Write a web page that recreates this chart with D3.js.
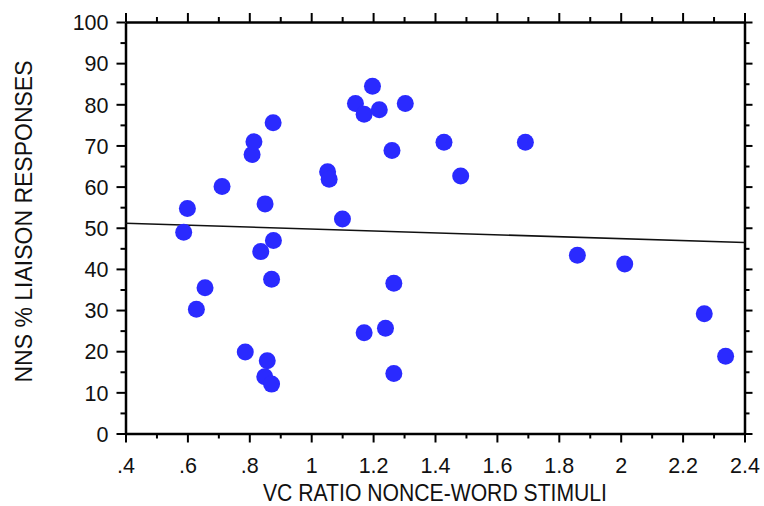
<!DOCTYPE html>
<html>
<head>
<meta charset="utf-8">
<script src="https://cdn.jsdelivr.net/npm/d3@7"></script>
<style>
  html, body { margin: 0; padding: 0; background: #fff; }
  svg { display: block; }
  text { font-family: Arial, "Liberation Sans", sans-serif; fill: #111; }
</style>
</head>
<body>
<svg id="chart" width="764" height="506"></svg>
<script>
// ---- data ----
const vcRatio = [0.600, 0.712, 0.809, 0.815, 0.877, 0.851, 1.053, 1.058, 1.101, 1.143,
                 1.171, 1.198, 1.220, 1.261, 1.304, 1.429, 1.483, 1.692, 0.588, 0.657,
                 0.629, 0.837, 0.878, 0.872, 0.787, 0.858, 0.850, 0.872, 1.267, 1.171,
                 1.240, 1.267, 1.860, 2.013, 2.270, 2.339];
const liaisonPct = [54.7, 60.0, 67.8, 70.9, 75.5, 55.8, 63.6, 61.8, 52.1, 80.2,
                    77.6, 84.4, 78.7, 68.8, 80.2, 70.8, 62.6, 70.8, 48.9, 35.4,
                    30.2, 44.2, 46.9, 37.5, 19.8, 17.7, 13.8, 12.0, 36.5, 24.5,
                    25.6, 14.6, 43.3, 41.2, 29.1, 18.8];
const fitX = [0.4, 2.4];
const fitY = [51.1, 46.4];
const xTickValues = [0.4, 0.6, 0.8, 1.0, 1.2, 1.4, 1.6, 1.8, 2.0, 2.2, 2.4];
const xTickLabels = [".4", ".6", ".8", "1", "1.2", "1.4", "1.6", "1.8", "2", "2.2", "2.4"];
const yTickValues = [0, 10, 20, 30, 40, 50, 60, 70, 80, 90, 100];
const xMinorTicks = [0.5, 0.7, 0.9, 1.1, 1.3, 1.5, 1.7, 1.9, 2.1, 2.3];
const yMinorTicks = [5, 15, 25, 35, 45, 55, 65, 75, 85, 95];
const xTitle = "VC RATIO NONCE-WORD STIMULI";
const yTitle = "NNS % LIAISON RESPONSES";

// ---- layout ----
const mLeft = 125.5, mRight = 744.5, mTop = 22, mBottom = 433.5;
const svg = d3.select("#chart");
const x = d3.scaleLinear().domain([0.4, 2.4]).range([mLeft, mRight]);
const y = d3.scaleLinear().domain([0, 100]).range([mBottom, mTop]);

const majorLen = 9, minorLen = 5;
const tickFontPx = 21.5;

function styleAxis(g) {
  g.attr("font-size", tickFontPx).attr("font-family", "Arial, 'Liberation Sans', sans-serif");
  g.select(".domain").attr("stroke", "#000").attr("stroke-width", 2.5);
  g.selectAll(".tick line").attr("stroke", "#000").attr("stroke-width", 2);
  g.selectAll(".tick text").attr("fill", "#111");
}

function minor(axisGen, transform) {
  const g = svg.append("g").attr("transform", transform).call(axisGen);
  g.select(".domain").remove();
  g.selectAll(".tick text").remove();
  g.selectAll(".tick line").attr("stroke", "#000").attr("stroke-width", 2);
}
minor(d3.axisBottom(x).tickValues(xMinorTicks).tickSize(minorLen), `translate(0,${mBottom})`);
minor(d3.axisTop(x).tickValues(xMinorTicks).tickSize(minorLen), `translate(0,${mTop})`);
minor(d3.axisLeft(y).tickValues(yMinorTicks).tickSize(minorLen), `translate(${mLeft},0)`);
minor(d3.axisRight(y).tickValues(yMinorTicks).tickSize(minorLen), `translate(${mRight},0)`);

const gb = svg.append("g").attr("transform", `translate(0,${mBottom})`)
  .call(d3.axisBottom(x).tickValues(xTickValues).tickSize(majorLen).tickSizeOuter(0).tickPadding(15));
styleAxis(gb);
gb.selectAll(".tick text").each(function(d, i) { d3.select(this).text(xTickLabels[i]); });

const gt = svg.append("g").attr("transform", `translate(0,${mTop})`)
  .call(d3.axisTop(x).tickValues(xTickValues).tickFormat("").tickSize(majorLen).tickSizeOuter(0));
styleAxis(gt);
const gl = svg.append("g").attr("transform", `translate(${mLeft},0)`)
  .call(d3.axisLeft(y).tickValues(yTickValues).tickSize(majorLen).tickSizeOuter(0).tickPadding(8));
styleAxis(gl);
gl.selectAll(".tick text").attr("dy", "0.36em");
const gr = svg.append("g").attr("transform", `translate(${mRight},0)`)
  .call(d3.axisRight(y).tickValues(yTickValues).tickFormat("").tickSize(majorLen - 1).tickSizeOuter(0));
styleAxis(gr);

svg.append("path")
  .datum(fitX.map((v, i) => [v, fitY[i]]))
  .attr("fill", "none")
  .attr("stroke", "#111")
  .attr("stroke-width", 1.6)
  .attr("d", d3.line().x(d => x(d[0])).y(d => y(d[1])));

svg.append("g").selectAll("circle")
  .data(vcRatio.map((v, i) => [v, liaisonPct[i]]))
  .join("circle")
  .attr("cx", d => x(d[0]))
  .attr("cy", d => y(d[1]))
  .attr("r", 8.5)
  .attr("fill", "#2a2aff");

svg.append("text")
  .attr("x", (263 + 607) / 2)
  .attr("y", 500.5)
  .attr("text-anchor", "middle")
  .attr("textLength", 344)
  .attr("lengthAdjust", "spacingAndGlyphs")
  .attr("font-size", 23)
  .text(xTitle);

svg.append("text")
  .attr("transform", `translate(31.5,${(53 + 390) / 2}) rotate(-90)`)
  .attr("text-anchor", "middle")
  .attr("font-size", 23)
  .text(yTitle);
</script>
</body>
</html>
